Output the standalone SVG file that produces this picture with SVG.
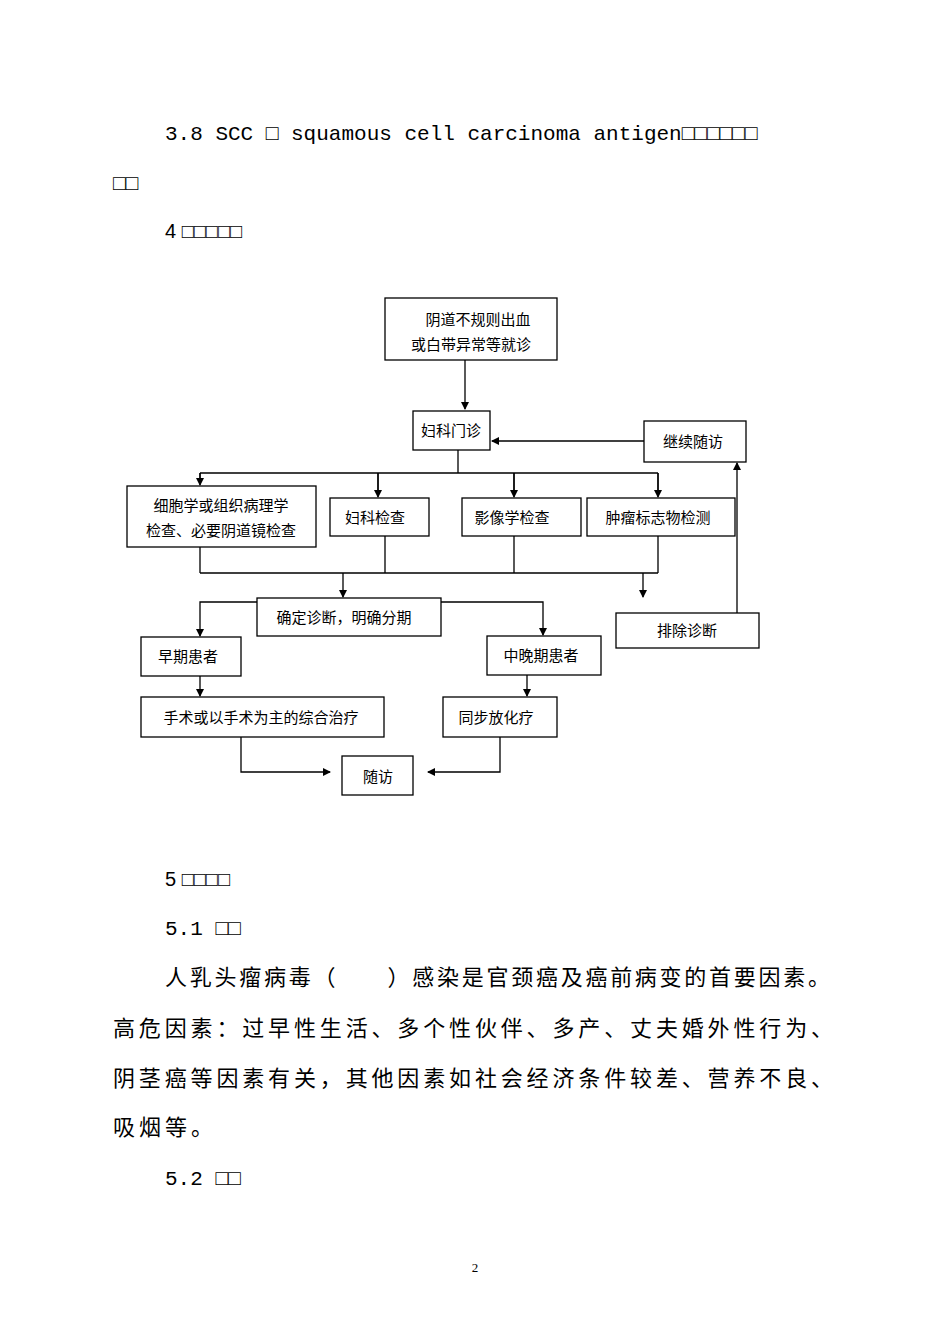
<svg xmlns="http://www.w3.org/2000/svg" width="950" height="1344" viewBox="0 0 950 1344">
<style>
.b{fill:#fff;stroke:#000;stroke-width:1.3}
.l{fill:none;stroke:#000;stroke-width:1.3}
.t{font-family:"Noto Sans CJK SC","Liberation Serif",serif;font-size:15px;fill:#000}
.p{font-family:"Liberation Mono","Noto Sans CJK SC",monospace;font-size:21px;fill:#000}
.c{font-family:"Noto Sans CJK SC",sans-serif;font-size:22px;fill:#000}
.h{font-family:"Liberation Sans","Noto Sans CJK SC",sans-serif;font-size:20px;fill:#000}
</style>
<defs><marker id="a" markerWidth="8" markerHeight="8" refX="7" refY="4" orient="auto" markerUnits="userSpaceOnUse"><path d="M0,0L8,4L0,8z" fill="#000"/></marker></defs>
<rect width="950" height="1344" fill="#fff"/>
<text class="p" x="165" y="140">3.8 SCC □ squamous cell carcinoma antigen□□□□□□</text>
<text class="p" x="113" y="190">□□</text>
<text class="h" x="165" y="238">4 □□□□□</text>
<g id="connectors">
<path class="l" d="M465,360V409" marker-end="url(#a)"/>
<path class="l" d="M644,441H492" marker-end="url(#a)"/>
<path class="l" d="M458,450V473M200,473H658M200,473V484M378,473V496M514,473V496M658,473V496" />
<path class="l" d="M200,473V485" marker-end="url(#a)"/>
<path class="l" d="M378,473V497" marker-end="url(#a)"/>
<path class="l" d="M514,473V497" marker-end="url(#a)"/>
<path class="l" d="M658,473V497" marker-end="url(#a)"/>
<path class="l" d="M200,547V573M385,536V573M514,536V573M658,536V573M200,573H658"/>
<path class="l" d="M343,573V597" marker-end="url(#a)"/>
<path class="l" d="M643,573V597" marker-end="url(#a)"/>
<path class="l" d="M737,613V463" marker-end="url(#a)"/>
<path class="l" d="M257,602H200V636" marker-end="url(#a)"/>
<path class="l" d="M441,602H543V635" marker-end="url(#a)"/>
<path class="l" d="M200,676V696" marker-end="url(#a)"/>
<path class="l" d="M527,675V696" marker-end="url(#a)"/>
<path class="l" d="M241,737V772H330" marker-end="url(#a)"/>
<path class="l" d="M500,737V772H428" marker-end="url(#a)"/>
</g>
<g id="n1"><rect class="b" x="385" y="298" width="172" height="62"/><text class="t" x="478" y="325" text-anchor="middle">阴道不规则出血</text><text class="t" x="471" y="350" text-anchor="middle">或白带异常等就诊</text></g>
<g id="n2"><rect class="b" x="413" y="411" width="77" height="39"/><text class="t" x="451" y="436" text-anchor="middle">妇科门诊</text></g>
<g id="n3"><rect class="b" x="644" y="421" width="102" height="41"/><text class="t" x="693" y="447" text-anchor="middle">继续随访</text></g>
<g id="n4"><rect class="b" x="127" y="486" width="189" height="61"/><text class="t" x="221" y="511" text-anchor="middle">细胞学或组织病理学</text><text class="t" x="221" y="536" text-anchor="middle">检查、必要阴道镜检查</text></g>
<g id="n5"><rect class="b" x="330" y="498" width="99" height="38"/><text class="t" x="375" y="523" text-anchor="middle">妇科检查</text></g>
<g id="n6"><rect class="b" x="462" y="498" width="119" height="38"/><text class="t" x="512" y="523" text-anchor="middle">影像学检查</text></g>
<g id="n7"><rect class="b" x="587" y="498" width="148" height="38"/><text class="t" x="658" y="523" text-anchor="middle">肿瘤标志物检测</text></g>
<g id="n8"><rect class="b" x="257" y="598" width="184" height="38"/><text class="t" x="344" y="623" text-anchor="middle">确定诊断，明确分期</text></g>
<g id="n9"><rect class="b" x="616" y="613" width="143" height="35"/><text class="t" x="687" y="636" text-anchor="middle">排除诊断</text></g>
<g id="n10"><rect class="b" x="141" y="637" width="100" height="39"/><text class="t" x="188" y="662" text-anchor="middle">早期患者</text></g>
<g id="n11"><rect class="b" x="487" y="636" width="114" height="39"/><text class="t" x="541" y="661" text-anchor="middle">中晚期患者</text></g>
<g id="n12"><rect class="b" x="141" y="697" width="243" height="40"/><text class="t" x="261" y="723" text-anchor="middle">手术或以手术为主的综合治疗</text></g>
<g id="n13"><rect class="b" x="443" y="697" width="114" height="40"/><text class="t" x="496" y="723" text-anchor="middle">同步放化疗</text></g>
<g id="n14"><rect class="b" x="342" y="756" width="71" height="39"/><text class="t" x="378" y="782" text-anchor="middle">随访</text></g>
<text class="h" x="165" y="886">5 □□□□</text>
<text class="p" x="165" y="935">5.1 □□</text>
<text class="c" x="165" y="985" textLength="665" lengthAdjust="spacing">人乳头瘤病毒（　　）感染是官颈癌及癌前病变的首要因素。</text>
<text class="c" x="113" y="1036" textLength="720" lengthAdjust="spacing">高危因素：过早性生活、多个性伙伴、多产、丈夫婚外性行为、</text>
<text class="c" x="113" y="1086" textLength="720" lengthAdjust="spacing">阴茎癌等因素有关，其他因素如社会经济条件较差、营养不良、</text>
<text class="c" x="113" y="1135" textLength="100" lengthAdjust="spacing">吸烟等。</text>
<text class="p" x="165" y="1185">5.2 □□</text>
<text x="475" y="1272" text-anchor="middle" style="font-family:'Liberation Serif',serif;font-size:13px">2</text>
</svg>
